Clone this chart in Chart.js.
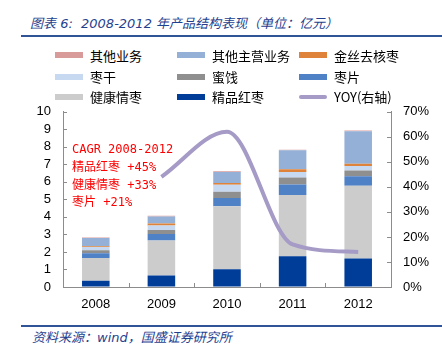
<!DOCTYPE html>
<html>
<head>
<meta charset="utf-8">
<script src="https://cdn.jsdelivr.net/npm/chart.js@4.4.0/dist/chart.umd.min.js"></script>
<style>
  body { margin: 0; width: 442px; height: 350px; background: #fff; position: relative; overflow: hidden; }
  .title { position: absolute; left: 30px; top: 13px; font: italic 13px "DejaVu Sans", "Noto Sans CJK SC"; color: #1f3f8f; white-space: nowrap; }
  .rule { position: absolute; left: 21px; right: 0; height: 2px; background: #2f5597; }
  .source { position: absolute; left: 32px; top: 327px; font: italic 13px "DejaVu Sans", "Noto Sans CJK SC"; color: #1f3f8f; white-space: nowrap; }
  #legend { position: absolute; left: 0; top: 0; z-index: 2; }
  .item { position: absolute; height: 20px; display: flex; align-items: center; font: 13px "Noto Sans CJK SC", "Liberation Sans"; color: #000; white-space: nowrap; }
  .swatch { width: 28px; height: 6px; margin-right: 7px; }
  .swatch.line { height: 4px; border-radius: 2px; }
  .wrap { position: absolute; left: 0; top: 92px; width: 442px; height: 228px; }
</style>
</head>
<body>
<div class="title">图表 6:&nbsp; 2008-2012 年产品结构表现（单位：亿元）</div>
<div class="rule" style="top:35px"></div>
<div id="legend"></div>
<div class="wrap"><canvas id="myChart"></canvas></div>
<div class="rule" style="top:325px"></div>
<div class="source">资料来源：wind，国盛证券研究所</div>
<script>
const years = ["2008", "2009", "2010", "2011", "2012"];

// 亿元, stacked bottom to top
const premiumDates = [0.35, 0.66, 1.02, 1.75, 1.62]; // 精品红枣
const healthDates = [1.3, 2.0, 3.59, 3.5, 4.16]; // 健康情枣
const dateSlices = [0.27, 0.36, 0.47, 0.6, 0.54]; // 枣片
const candied = [0.18, 0.24, 0.35, 0.4, 0.33]; // 蜜饯
const driedDates = [0.19, 0.25, 0.4, 0.31, 0.25]; // 枣干
const goldenPitted = [0.03, 0.12, 0.11, 0.16, 0.13]; // 金丝去核枣
const otherMain = [0.47, 0.4, 0.63, 1.08, 1.86]; // 其他主营业务
const otherBiz = [0.03, 0.03, 0.03, 0.03, 0.04]; // 其他业务

const yoy = [null, 44, 62, 17, 14]; // %

const leftTicks = [0, 1, 2, 3, 4, 5, 6, 7, 8, 9, 10];
const rightTicks = [0, 10, 20, 30, 40, 50, 60, 70];

const cagrLines = [
  { text: "CAGR 2008-2012", at: 7.8 },
  { text: "精品红枣 +45%", at: 6.8 },
  { text: "健康情枣 +33%", at: 5.8 },
  { text: "枣片 +21%", at: 4.8 },
];

const barSet = (label, data, color) => ({
  type: "bar",
  label: label,
  data: data,
  backgroundColor: color,
  borderWidth: 0,
  stack: "s",
  yAxisID: "y",
  barPercentage: 0.42,
  categoryPercentage: 1,
  order: 2,
});

const datasets = [
  barSet("精品红枣", premiumDates, "#003d99"),
  barSet("健康情枣", healthDates, "#cccccc"),
  barSet("枣片", dateSlices, "#4f81c7"),
  barSet("蜜饯", candied, "#8f8f8f"),
  barSet("枣干", driedDates, "#c6d9f1"),
  barSet("金丝去核枣", goldenPitted, "#e0833a"),
  barSet("其他主营业务", otherMain, "#95b0d6"),
  barSet("其他业务", otherBiz, "#d99a9a"),
  {
    type: "line",
    label: "YOY(右轴)",
    data: yoy,
    borderColor: "#a59bc6",
    borderWidth: 4,
    pointRadius: 0,
    cubicInterpolationMode: "monotone",
    yAxisID: "y1",
    order: 1,
  },
];

// legend in 3 columns, same order as the original
const legendOrder = datasets.slice(0, 8).reverse().concat(datasets[8]);
const legendEl = document.getElementById("legend");
const colX = [55, 177, 299];
const rowY = [45, 66.5, 86.5];
legendOrder.forEach((ds, i) => {
  const isLine = ds.type === "line";
  const color = isLine ? ds.borderColor : ds.backgroundColor;
  const markup = `
    <div class="item" style="left:${colX[i % 3]}px;top:${rowY[Math.floor(i / 3)]}px">
      <span class="swatch${isLine ? " line" : ""}" style="background:${color}"></span>${ds.label}
    </div>`;
  legendEl.insertAdjacentHTML("beforeend", markup);
});

const axisColor = "#8c8c8c";

const innerTicks = {
  id: "innerTicks",
  afterDraw(chart) {
    const { ctx, scales } = chart;
    const y = scales.y, y1 = scales.y1, x = scales.x;
    ctx.save();
    ctx.strokeStyle = axisColor;
    ctx.lineWidth = 1;
    ctx.beginPath();
    leftTicks.forEach((v) => {
      const py = Math.round(y.getPixelForValue(v)) + 0.5;
      ctx.moveTo(y.right, py);
      ctx.lineTo(y.right + 4, py);
    });
    rightTicks.forEach((v) => {
      const py = Math.round(y1.getPixelForValue(v)) + 0.5;
      ctx.moveTo(y1.left, py);
      ctx.lineTo(y1.left - 4, py);
    });
    for (let i = 0; i <= years.length; i++) {
      const px = Math.round(x.getPixelForValue(i - 0.5)) + 0.5;
      ctx.moveTo(px, x.top);
      ctx.lineTo(px, x.top - 4);
    }
    ctx.stroke();
    ctx.restore();
  },
};

const cagrNote = {
  id: "cagrNote",
  afterDatasetsDraw(chart) {
    const { ctx, scales, chartArea } = chart;
    ctx.save();
    ctx.fillStyle = "#ff0000";
    ctx.font = "12px 'DejaVu Sans Mono', 'Noto Sans CJK SC'";
    ctx.textBaseline = "middle";
    cagrLines.forEach((l) => {
      ctx.fillText(l.text, chartArea.left + 9, scales.y.getPixelForValue(l.at));
    });
    ctx.restore();
  },
};

const tickFont = { family: "Liberation Sans", size: 13 };

const ctx = document.getElementById("myChart").getContext("2d");

new Chart(ctx, {
  data: { labels: years, datasets: datasets },
  plugins: [innerTicks, cagrNote],
  options: {
    responsive: true,
    maintainAspectRatio: false,
    animation: false,
    layout: { padding: { top: 12, left: 0, right: 0, bottom: 0 } },
    plugins: {
      legend: { display: false },
      tooltip: { enabled: false },
    },
    scales: {
      x: {
        stacked: true,
        afterFit: (s) => { s.height = 33; },
        grid: { display: true, drawOnChartArea: false, drawTicks: false },
        border: { color: axisColor },
        ticks: { color: "#000", padding: 10, font: tickFont },
      },
      y: {
        stacked: true,
        position: "left",
        min: 0,
        max: 10,
        afterFit: (s) => { s.width = 63; },
        afterBuildTicks: (s) => { s.ticks = leftTicks.map((v) => ({ value: v })); },
        grid: { drawOnChartArea: false, drawTicks: false },
        border: { color: axisColor },
        ticks: { color: "#000", padding: 12, autoSkip: false, font: tickFont },
      },
      y1: {
        position: "right",
        min: 0,
        max: 70,
        afterFit: (s) => { s.width = 51; },
        afterBuildTicks: (s) => { s.ticks = rightTicks.map((v) => ({ value: v })); },
        grid: { drawOnChartArea: false, drawTicks: false },
        border: { color: axisColor },
        ticks: {
          color: "#000",
          padding: 12,
          autoSkip: false,
          font: tickFont,
          callback: (v) => v + "%",
        },
      },
    },
  },
});
</script>
</body>
</html>
